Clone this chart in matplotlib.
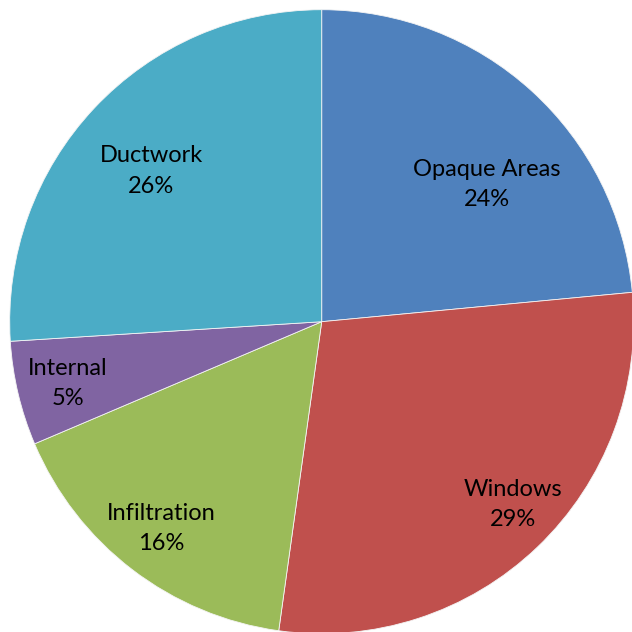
import matplotlib
matplotlib.use("Agg")
import matplotlib.pyplot as plt

# Heat gain components
categories = ["Opaque Areas", "Windows", "Infiltration", "Internal", "Ductwork"]
shares = [23.5, 28.7, 16.4, 5.4, 26.0]
colors = ["#4F81BD", "#C0504D", "#9BBB59", "#8064A2", "#4BACC6"]

# label anchor points in units of the pie radius
label_pos = [(0.53, 0.44), (0.613, -0.585), (-0.515, -0.662),
             (-0.813, -0.198), (-0.547, 0.483)]

fig = plt.figure(figsize=(6.32, 6.32), dpi=100)
ax = fig.add_axes([0, 0, 1, 1])

wedges, _ = ax.pie(shares, colors=colors, startangle=90, counterclock=False,
                   radius=1.0,
                   wedgeprops=dict(edgecolor="#f4f4f4", linewidth=0.6))

total = sum(shares)
for name, val, (x, y) in zip(categories, shares, label_pos):
    ax.text(x, y, f"{name}\n{round(val / total * 100)}%", ha="center", va="center",
            fontsize=17, family=["Lato", "DejaVu Sans"], linespacing=1.55,
            color="black")

ax.set_xlim(-321.7 / 312, (632 - 321.7) / 312)
ax.set_ylim(-(632 - 321.7) / 312, 321.7 / 312)
ax.set_aspect("auto")
ax.axis("off")

fig.savefig("out.png", dpi=100)
